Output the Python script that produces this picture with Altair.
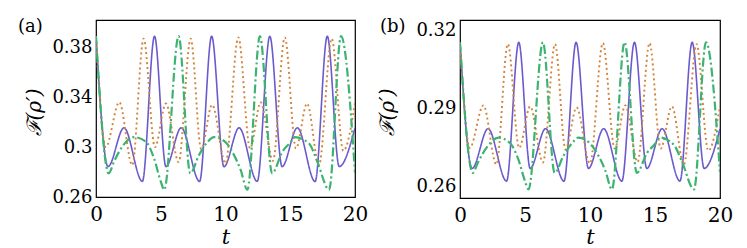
import altair as alt
import pandas as pd

# ---------------- data ----------------
series_names = ["solid", "dotted", "dashdot"]
series_colors = ["#6a5acd", "#d2853c", "#3cb371"]

x_ticks = [0, 5, 10, 15, 20]
y_ticks_a = [0.26, 0.30, 0.34, 0.38]
y_ticks_b = [0.26, 0.29, 0.32]
panel_labels = ["(a)", "(b)"]

# solid (purple) curve
t_solid = [0, 0.93, 2.16, 3.58, 4.52, 5.4, 6.58, 8.0, 8.93, 9.88, 11.05, 12.45,
           13.42, 14.37, 15.55, 16.92, 17.86, 18.78, 20.0]
v_solid_a = [0.389, 0.2844, 0.3155, 0.2725, 0.389, 0.2844, 0.3155, 0.2725, 0.389,
             0.2843, 0.3155, 0.2725, 0.389, 0.2844, 0.3155, 0.2724, 0.389, 0.2844, 0.3153]
v_solid_b = [0.3155, 0.2669, 0.2822, 0.2620, 0.3155, 0.2669, 0.2822, 0.2620, 0.3155,
             0.2669, 0.2822, 0.2620, 0.3155, 0.2669, 0.2822, 0.2620, 0.3155, 0.2669, 0.2821]

# dotted (orange) curve
t_dotted = [0, 0.75, 1.8, 2.8, 3.68, 4.55, 5.4, 6.38, 7.31, 8.12, 8.97, 10.0, 10.99,
            11.9, 12.72, 13.66, 14.58, 15.44, 16.3, 17.22, 18.2, 19.1, 20.0]
v_dotted_a = [0.389, 0.300, 0.336, 0.2856, 0.387, 0.300, 0.335, 0.288, 0.387, 0.2985,
              0.334, 0.287, 0.388, 0.299, 0.336, 0.289, 0.388, 0.299, 0.335, 0.2857,
              0.387, 0.297, 0.3355]
v_dotted_b = [0.3155, 0.2748, 0.2912, 0.2684, 0.3148, 0.2748, 0.2908, 0.2692, 0.3148,
              0.2742, 0.2904, 0.2688, 0.3152, 0.2746, 0.2912, 0.2694, 0.3152, 0.2746,
              0.2908, 0.2684, 0.3148, 0.2737, 0.2910]

# dash-dot (green) curve
t_dashdot = [0, 0.98, 1.39, 1.78, 2.3, 2.94, 3.84, 4.48, 5.0, 5.27, 6.38, 7.28, 7.95,
             8.6, 9.11, 10.0, 10.66, 11.17, 11.69, 12.66, 13.6, 14.39, 15.03, 15.35,
             16.45, 17.09, 18.0, 18.92, 20.0]
v_dashdot_a = [0.389, 0.279, 0.2883, 0.2963, 0.304, 0.308, 0.3045, 0.291, 0.2725,
               0.2658, 0.389, 0.279, 0.2936, 0.304, 0.308, 0.304, 0.2936, 0.2817,
               0.2658, 0.389, 0.279, 0.2963, 0.304, 0.308, 0.3029, 0.2883, 0.2658,
               0.389, 0.2795]
v_dashdot_b = [0.3155, 0.2652, 0.2693, 0.2729, 0.2765, 0.2788, 0.2767, 0.2705, 0.2620,
               0.2588, 0.3155, 0.2652, 0.2717, 0.2765, 0.2788, 0.2765, 0.2717, 0.2662,
               0.2588, 0.3155, 0.2652, 0.2729, 0.2765, 0.2788, 0.2760, 0.2693, 0.2588,
               0.3155, 0.2655]

FONT = "DejaVu Serif"


def frame(ts_vs):
    rows = []
    for name, (ts, vs) in zip(series_names, ts_vs):
        for t, v in zip(ts, vs):
            rows.append({"t": t, "v": v, "s": name})
    return pd.DataFrame(rows)


def panel(df, ydomain, yticks, label, w, h, title_x, label_x, xtitle_y):
    xs = alt.X("t:Q", scale=alt.Scale(domain=[0, 20], nice=False),
               axis=alt.Axis(values=x_ticks, grid=False, domain=False, ticks=False,
                             labelFont=FONT, labelFontSize=20, labelColor="black",
                             labelPadding=7, labelFlush=False,
                             title="t", titleFont=FONT, titleFontSize=21,
                             titleFontStyle="italic", titleFontWeight="normal",
                             titleColor="black", titleBaseline="alphabetic",
                             titleY=xtitle_y))
    ys = alt.Y("v:Q", scale=alt.Scale(domain=ydomain, nice=False, zero=False),
               axis=alt.Axis(values=yticks, format=".2~f", grid=False, domain=False,
                             ticks=False, labelFont=FONT, labelFontSize=18,
                             labelColor="black", labelPadding=4, labelFlush=False,
                             title="ℱ(ρ′)", titleFont=FONT, titleFontSize=20,
                             titleFontStyle="italic", titleFontWeight="normal",
                             titleColor="black", titleAngle=270,
                             titleBaseline="alphabetic", titleAlign="center",
                             titleX=title_x, titleY=92))
    lines = alt.Chart(df).mark_line(interpolate="monotone", clip=True).encode(
        x=xs, y=ys,
        color=alt.Color("s:N", scale=alt.Scale(domain=series_names, range=series_colors),
                        legend=None),
        strokeDash=alt.StrokeDash("s:N", scale=alt.Scale(
            domain=series_names, range=[[1, 0], [2, 3], [9, 3, 2, 3]]), legend=None),
        strokeWidth=alt.StrokeWidth("s:N", scale=alt.Scale(
            domain=series_names, range=[1.6, 2.2, 2.0]), legend=None),
    )
    tag = alt.Chart(alt.Data(values=[{"label": label}])).mark_text(
        font=FONT, fontSize=18, align="left", baseline="alphabetic", color="black"
    ).encode(x=alt.value(label_x), y=alt.value(12), text="label:N")
    return alt.layer(lines, tag).properties(width=w, height=h)


df_a = frame([(t_solid, v_solid_a), (t_dotted, v_dotted_a), (t_dashdot, v_dashdot_a)])
df_b = frame([(t_solid, v_solid_b), (t_dotted, v_dotted_b), (t_dashdot, v_dashdot_b)])

pa = panel(df_a, [0.26, 0.402], y_ticks_a, panel_labels[0], 259, 177, -55.6, -78, 46)
pb = panel(df_b, [0.2555, 0.3241], y_ticks_b, panel_labels[1], 260, 178, -67, -80, 45)

chart = alt.hconcat(pa, pb, spacing=7).properties(
    padding={"left": 9, "top": 9, "right": 0, "bottom": 0},
    background="white",
).configure_view(stroke="black", strokeWidth=1.2)

chart.save("out.html", embed_options={"renderer": "svg", "actions": False})
